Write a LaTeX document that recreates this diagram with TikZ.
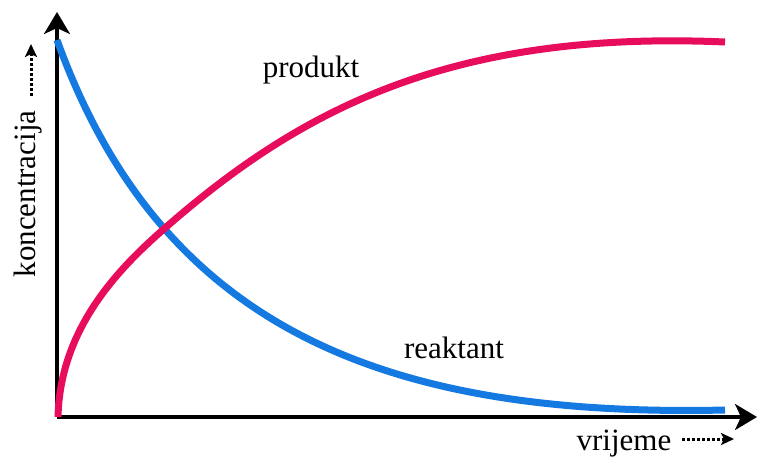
\documentclass[tikz,border=0pt]{standalone}
\usepackage{fontspec}
\setmainfont{Liberation Serif}
\usetikzlibrary{arrows.meta}
\definecolor{reakblue}{RGB}{20,122,225}
\definecolor{prodred}{RGB}{232,12,92}

\begin{document}
\begin{tikzpicture}[x=1pt, y=-1pt,
  axis/.style={line width=3.2pt, -{Stealth[length=22pt, width=26pt, inset=6pt]}},
  hint/.style={line width=3pt, dash pattern=on 3pt off 2pt, -{Stealth[length=13pt, width=12pt, inset=3pt]}},
  lbl/.style={font=\fontsize{31}{36}\selectfont, inner sep=0pt},
  curve/.style={line width=7pt}]
\useasboundingbox (0,0) rectangle (760,456);

\coordinate (o) at (57,417);
\coordinate (ytop) at (57,12);
\coordinate (xend) at (757,417);
\draw[axis] (o) -- (ytop);
\draw[axis] (o) -- (xend);

\coordinate (b0) at (57,40);
\coordinate (b1) at (725,410);
\coordinate (r0) at (58,417);
\coordinate (x) at (165,228);
\coordinate (r1) at (725,42);

\draw[curve, reakblue] (b0) .. controls (159,322) and (375,418) .. (b1);
\draw[curve, prodred] (r0) .. controls (60,325) and (124,264) .. (x)
  .. controls (300,110) and (450,30) .. (r1);

\draw
(311,77) node[lbl, anchor=base](produkt){produkt}
(454,358) node[lbl, anchor=base](reaktant){reaktant}
(624,450) node[lbl, anchor=base](vrijeme){vrijeme}
(35,194) node[lbl, anchor=base, rotate=90](konc){koncentracija};

\coordinate (k0) at (31,96);
\coordinate (k1) at (31,44);
\coordinate (v0) at (682,439);
\coordinate (v1) at (734,439);
\draw[hint] (k0) -- (k1);
\draw[hint] (v0) -- (v1);

\end{tikzpicture}
\end{document}
